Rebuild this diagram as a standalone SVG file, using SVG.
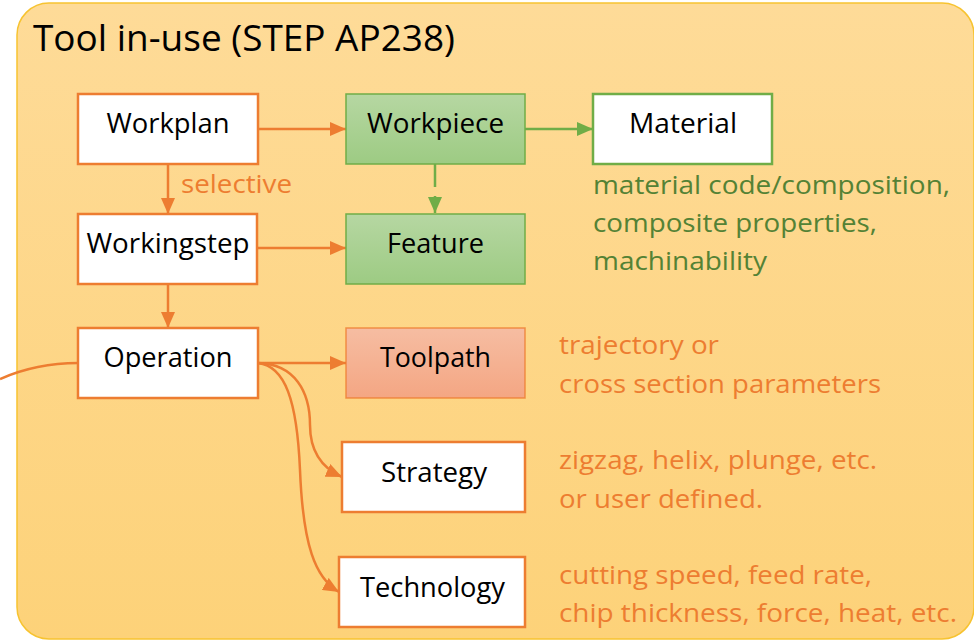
<svg xmlns="http://www.w3.org/2000/svg" width="974" height="642" viewBox="0 0 974 642">
<defs>
<linearGradient id="bg" x1="0" y1="0" x2="0" y2="1"><stop offset="0" stop-color="#FEDB98"/><stop offset="1" stop-color="#FDD279"/></linearGradient>
<linearGradient id="gr" x1="0" y1="0" x2="0" y2="1"><stop offset="0" stop-color="#B6D7A2"/><stop offset="1" stop-color="#9DCB83"/></linearGradient>
<linearGradient id="rd" x1="0" y1="0" x2="0" y2="1"><stop offset="0" stop-color="#F6BDA2"/><stop offset="1" stop-color="#F4A683"/></linearGradient>
<marker id="ao" viewBox="0 0 16 14" refX="16" refY="7" markerWidth="16" markerHeight="14" markerUnits="userSpaceOnUse" orient="auto"><path d="M0,0 L16,7 L0,14 Z" fill="#ED7D31"/></marker>
<marker id="ag" viewBox="0 0 16 14" refX="16" refY="7" markerWidth="16" markerHeight="14" markerUnits="userSpaceOnUse" orient="auto"><path d="M0,0 L16,7 L0,14 Z" fill="#70AD47"/></marker>
<style>
text{font-family:"Open Sans","Liberation Sans",sans-serif}
.lbl{font-size:27px;fill:#000;text-anchor:middle}
.on{fill:#fff;stroke:#ED7D31;stroke-width:2.5}
.gn{fill:url(#gr);stroke:#70AD47;stroke-width:1.5}
.gw{fill:#fff;stroke:#70AD47;stroke-width:2.5}
.rn{fill:url(#rd);stroke:#ED7D31;stroke-width:1.5;stroke-opacity:0.8}
.co{fill:none;stroke:#ED7D31;stroke-width:2.5}
.cg{fill:none;stroke:#70AD47;stroke-width:2.5}
.to{font-size:25.5px;fill:#ED7D31}
.tg{font-size:25.5px;fill:#548235}
</style>
</defs>
<rect x="17" y="3" width="957" height="636" rx="32" fill="url(#bg)" stroke="#F7C330" stroke-width="1.5"/>
<text x="33" y="51" font-size="37" fill="#000" textLength="422" lengthAdjust="spacingAndGlyphs">Tool in-use (STEP AP238)</text>

<g id="connectors">
<path class="co" d="M258,129 H346" marker-end="url(#ao)"/>
<path class="cg" d="M525,129 H593" marker-end="url(#ag)"/>
<path class="cg" d="M435,164 V213" stroke-dasharray="23 9" marker-end="url(#ag)"/>
<path class="co" d="M168,164 V214" marker-end="url(#ao)"/>
<path class="co" d="M257,248 H346" marker-end="url(#ao)"/>
<path class="co" d="M168,284 V328" marker-end="url(#ao)"/>
<path class="co" d="M258,363 H346" marker-end="url(#ao)"/>
<path class="co" d="M258,363 C295,364 310,392 310,425 C310,452 322,468 342,477" marker-end="url(#ao)"/>
<path class="co" d="M258,363 C285,366 297,400 300,470 C303,545 315,578 339,592" marker-end="url(#ao)"/>
<path class="co" d="M0,379 C25,368 50,363 78,363"/>
</g>
<text class="to" x="181" y="193" textLength="111" lengthAdjust="spacingAndGlyphs">selective</text>

<g id="workplan"><rect class="on" x="78" y="94" width="180" height="70"/><text class="lbl" x="168" y="133" textLength="123" lengthAdjust="spacingAndGlyphs">Workplan</text></g>
<g id="workpiece"><rect class="gn" x="346" y="94" width="179" height="70"/><text class="lbl" x="435.5" y="133" textLength="137" lengthAdjust="spacingAndGlyphs">Workpiece</text></g>
<g id="material"><rect class="gw" x="593" y="94" width="179" height="70"/><text class="lbl" x="683" y="133" textLength="108" lengthAdjust="spacingAndGlyphs">Material</text></g>
<g id="workingstep"><rect class="on" x="78" y="214" width="179" height="70"/><text class="lbl" x="168" y="253" textLength="163" lengthAdjust="spacingAndGlyphs">Workingstep</text></g>
<g id="feature"><rect class="gn" x="346" y="214" width="179" height="70"/><text class="lbl" x="435.5" y="253" textLength="97" lengthAdjust="spacingAndGlyphs">Feature</text></g>
<g id="operation"><rect class="on" x="78" y="328" width="180" height="70"/><text class="lbl" x="168" y="367" textLength="129" lengthAdjust="spacingAndGlyphs">Operation</text></g>
<g id="toolpath"><rect class="rn" x="346" y="328" width="179" height="70"/><text class="lbl" x="435.5" y="367" textLength="111" lengthAdjust="spacingAndGlyphs">Toolpath</text></g>
<g id="strategy"><rect class="on" x="342" y="442" width="183" height="70"/><text class="lbl" x="434" y="482" textLength="106" lengthAdjust="spacingAndGlyphs">Strategy</text></g>
<g id="technology"><rect class="on" x="339" y="557" width="186" height="70"/><text class="lbl" x="432.5" y="597" textLength="145" lengthAdjust="spacingAndGlyphs">Technology</text></g>

<g id="material-notes">
<text class="tg" x="593" y="194" textLength="357" lengthAdjust="spacingAndGlyphs">material code/composition,</text>
<text class="tg" x="593" y="232" textLength="284" lengthAdjust="spacingAndGlyphs">composite properties,</text>
<text class="tg" x="593" y="270" textLength="174" lengthAdjust="spacingAndGlyphs">machinability</text>
</g>
<g id="toolpath-notes">
<text class="to" x="559" y="354" textLength="160" lengthAdjust="spacingAndGlyphs">trajectory or</text>
<text class="to" x="559" y="393" textLength="322" lengthAdjust="spacingAndGlyphs">cross section parameters</text>
</g>
<g id="strategy-notes">
<text class="to" x="559" y="469" textLength="318" lengthAdjust="spacingAndGlyphs">zigzag, helix, plunge, etc.</text>
<text class="to" x="559" y="508" textLength="204" lengthAdjust="spacingAndGlyphs">or user defined.</text>
</g>
<g id="technology-notes">
<text class="to" x="559" y="584" textLength="313" lengthAdjust="spacingAndGlyphs">cutting speed, feed rate,</text>
<text class="to" x="559" y="622" textLength="398" lengthAdjust="spacingAndGlyphs">chip thickness, force, heat, etc.</text>
</g>
</svg>
